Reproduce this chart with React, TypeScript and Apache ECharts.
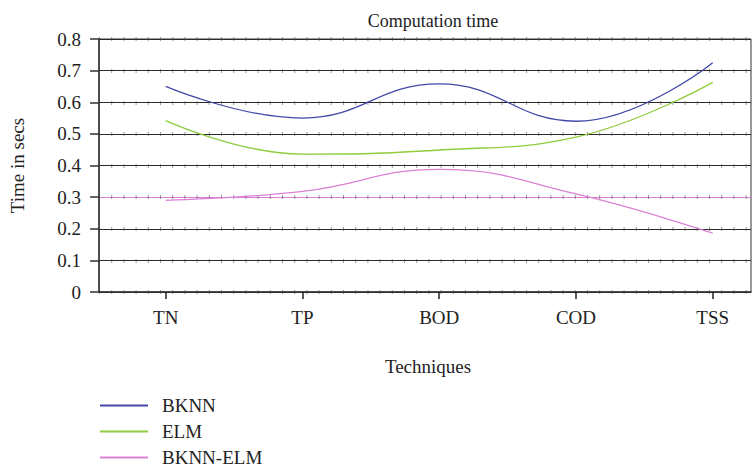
import React, { useEffect, useRef } from "react";
import * as echarts from "echarts";

const categories = ["TN", "TP", "BOD", "COD", "TSS"];
const bknn = [0.65, 0.55, 0.658, 0.54, 0.725];
const elm = [0.542, 0.436, 0.449, 0.49, 0.663];
const bknnElm = [0.29, 0.318, 0.388, 0.31, 0.186];
const yTicks = [0, 0.1, 0.2, 0.3, 0.4, 0.5, 0.6, 0.7, 0.8];

const FONT = "Liberation Serif, serif";
const BLUE = "#4348a8";
const GREEN = "#8fcc3e";
const PINK = "#dc80d6";

export default function App() {
  const ref = useRef<HTMLDivElement>(null);
  useEffect(() => {
    const chart = echarts.init(ref.current!, undefined, { renderer: "svg" });
    const gridColors = yTicks.map((t) => (Math.abs(t - 0.3) < 1e-6 ? PINK : "#2a2a2a"));
    const top = 39;
    const bottom = 178;
    chart.setOption({
      animation: false,
      textStyle: { fontFamily: FONT },
      title: {
        text: "Computation time",
        left: 428,
        textAlign: "center",
        top: 7,
        textStyle: { fontFamily: FONT, fontSize: 18, fontWeight: "normal", color: "#222" },
      },
      legend: {
        orient: "vertical",
        left: 100,
        top: 396,
        height: 74,
        padding: 0,
        itemWidth: 48,
        itemHeight: 2,
        itemGap: 7,
        icon: "rect",
        textStyle: { fontFamily: FONT, fontSize: 19, color: "#222", padding: [0, 0, 0, 9] },
        data: ["BKNN", "ELM", "BKNN-ELM"],
      },
      grid: [
        { left: 99, right: 5, top, bottom, show: true, borderColor: "#333", borderWidth: 1 },
        { left: 165.7, right: 43.3, top, bottom },
      ],
      xAxis: [
        {
          type: "value",
          gridIndex: 0,
          min: 0,
          max: 1,
          axisLabel: { show: false },
          axisTick: { show: false },
          splitLine: { show: false },
          axisLine: { show: true, lineStyle: { color: "#333", width: 1.5 } },
          name: "Techniques",
          nameLocation: "middle",
          nameGap: 65,
          nameTextStyle: { fontFamily: FONT, fontSize: 19, color: "#222", padding: [0, 0, 0, 6] },
        },
        {
          type: "category",
          gridIndex: 1,
          data: categories,
          boundaryGap: false,
          axisLine: { show: false },
          axisTick: { show: true, length: 7, lineStyle: { color: "#222", width: 1.5 } },
          axisLabel: { fontFamily: FONT, fontSize: 19, color: "#222", margin: 16 },
          splitLine: { show: false },
        },
      ],
      yAxis: [
        {
          type: "value",
          gridIndex: 0,
          min: 0,
          max: 0.8,
          interval: 0.1,
          axisLine: { show: true, lineStyle: { color: "#333", width: 1.5 } },
          axisTick: { show: true, length: 9, lineStyle: { color: "#333", width: 1.5 } },
          axisLabel: {
            fontFamily: FONT,
            fontSize: 19,
            color: "#222",
            margin: 18,
            formatter: (v: number) => (Math.abs(v) < 1e-9 ? "0" : String(Math.round(v * 10) / 10)),
          },
          splitLine: { show: true, lineStyle: { color: gridColors, width: 1.2 } },
          name: "Time in secs",
          nameLocation: "middle",
          nameGap: 72,
          nameTextStyle: { fontFamily: FONT, fontSize: 19, color: "#222" },
        },
        {
          type: "value",
          gridIndex: 0,
          min: 0,
          max: 0.8,
          interval: 0.1,
          axisLine: { show: false },
          axisTick: { show: false },
          axisLabel: { show: false },
          splitLine: {
            show: true,
            lineStyle: { color: "#444", width: 4, type: [1, 11.2], dashOffset: 0, opacity: 0.55 },
          },
        },
        {
          type: "value",
          gridIndex: 1,
          min: 0,
          max: 0.8,
          interval: 0.1,
          show: false,
          splitLine: { show: false },
        },
      ],
      series: [
        {
          name: "BKNN",
          type: "line",
          xAxisIndex: 1,
          yAxisIndex: 2,
          data: bknn,
          smooth: 0.45,
          symbol: "none",
          lineStyle: { color: BLUE, width: 1.3 },
          itemStyle: { color: BLUE },
        },
        {
          name: "ELM",
          type: "line",
          xAxisIndex: 1,
          yAxisIndex: 2,
          data: elm,
          smooth: 0.45,
          symbol: "none",
          lineStyle: { color: GREEN, width: 1.3 },
          itemStyle: { color: GREEN },
        },
        {
          name: "BKNN-ELM",
          type: "line",
          xAxisIndex: 1,
          yAxisIndex: 2,
          data: bknnElm,
          smooth: 0.45,
          symbol: "none",
          lineStyle: { color: PINK, width: 1.3 },
          itemStyle: { color: PINK },
        },
      ],
    });
    return () => chart.dispose();
  }, []);
  return (
    <div
      ref={ref}
      style={{ position: "fixed", left: 0, top: 0, width: 756, height: 470, background: "#fff" }}
    />
  );
}
